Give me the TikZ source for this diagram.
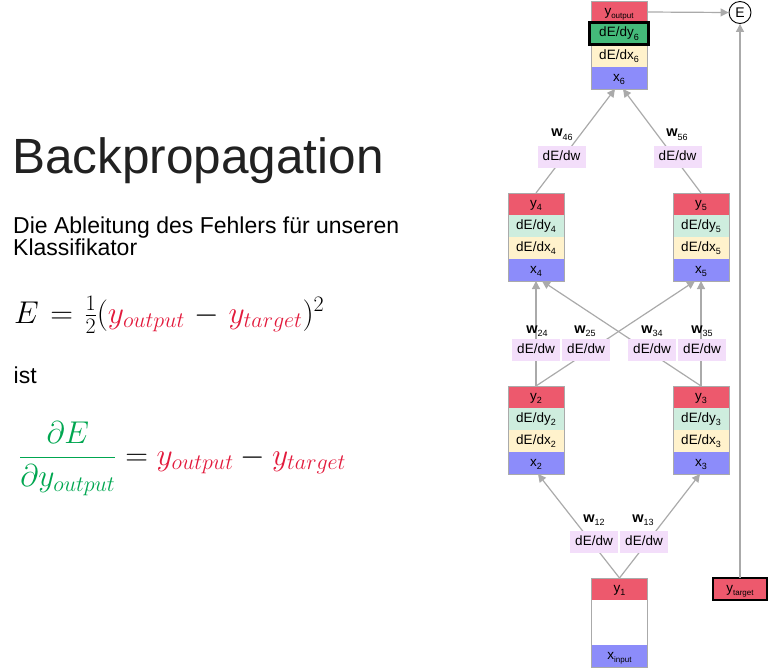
\RequirePackage{fix-cm}
\documentclass[tikz,border=0pt]{standalone}
\usepackage[no-math]{fontspec}
\setmainfont{Liberation Sans}
\usetikzlibrary{arrows.meta,fit}

\definecolor{rowred}{RGB}{237,89,109}
\definecolor{rowgreen}{RGB}{206,237,222}
\definecolor{rowdark}{RGB}{68,186,122}
\definecolor{rowcream}{RGB}{255,242,204}
\definecolor{rowblue}{RGB}{140,140,250}
\definecolor{wfill}{RGB}{243,222,250}
\definecolor{edgegray}{RGB}{170,170,170}
\definecolor{mred}{RGB}{226,26,60}
\definecolor{mgreen}{RGB}{0,166,80}
\definecolor{titlegray}{RGB}{33,33,33}

% lowered index digits and small word subscripts
\newcommand\lowsub[1]{\raisebox{-3.5pt}{\fontsize{9}{9}\selectfont #1}}
\newcommand\tinysub[1]{\raisebox{-3pt}{\fontsize{8}{8}\selectfont #1}}

\tikzset{
  row/.style={minimum width=56pt, minimum height=22pt, inner sep=0pt, outer sep=0pt,
    text height=10pt, text depth=3.5pt, font=\fontsize{13.5}{14}\selectfont},
  frame/.style={draw=edgegray, line width=1pt, inner sep=0pt, outer sep=0pt},
  dw/.style={fill=wfill, minimum width=48pt, minimum height=22pt, inner sep=0pt,
    text height=10pt, text depth=3.5pt, font=\fontsize{13.5}{14}\selectfont},
  wlab/.style={anchor=base, inner sep=0pt, font=\fontsize{14.5}{14}\selectfont},
  conn/.style={draw=edgegray, line width=1.2pt, -{Triangle[length=8pt,width=8pt]}},
  plaintext/.style={anchor=base west, inner sep=0pt},
}

% one neuron: name index, centre x, top y
\newcommand\layerbox[3]{%
  \node[row,fill=rowred]   (y#1)  at (#2,#3+11) {y\lowsub{#1}};
  \node[row,fill=rowgreen] (dy#1) at (#2,#3+33) {dE/dy\lowsub{#1}};
  \node[row,fill=rowcream] (dx#1) at (#2,#3+55) {dE/dx\lowsub{#1}};
  \node[row,fill=rowblue]  (x#1)  at (#2,#3+77) {x\lowsub{#1}};
  \node[frame,fit=(y#1)(x#1)] (n#1) {};
}

\begin{document}
\begin{tikzpicture}[x=1pt,y=-1pt]
\useasboundingbox (0,0) rectangle (771,670);

% ---- left column: title, text and formulas
\node[plaintext, font=\fontsize{49.5}{50}\selectfont, text=titlegray] (title) at (12,173.3) {Backpropagation};
\node[plaintext, font=\fontsize{23}{27}\selectfont] (intro1) at (13,233) {Die Ableitung des Fehlers für unseren};
\node[plaintext, font=\fontsize{23}{27}\selectfont] (intro2) at (13,255) {Klassifikator};
\node[plaintext, font=\fontsize{31.5}{36}\selectfont] (eq1) at (14,323)
  {$E\mkern1.5mu=\mkern1.5mu\frac{1}{2}(\textcolor{mred}{y_{output}}\mkern1.5mu-\mkern1.5mu\textcolor{mred}{y_{target}})^2$};
\node[plaintext, font=\fontsize{23}{27}\selectfont] (ist) at (13.5,383) {ist};
\node[plaintext, font=\fontsize{31.5}{36}\selectfont] (eq2) at (19,465)
  {$\displaystyle\textcolor{mgreen}{\frac{\partial E}{\partial y_{output}}}=\textcolor{mred}{y_{output}}-\textcolor{mred}{y_{target}}$};

% ---- network
% output neuron
\node[row,fill=rowred]   (y6)  at (619,12) {y\tinysub{output}};
\node[row,fill=rowcream] (dx6) at (619,56) {dE/dx\lowsub{6}};
\node[row,fill=rowblue]  (x6)  at (619,78) {x\lowsub{6}};
\node[frame,fit=(y6)(x6)] (n6) {};
\node[row,fill=rowdark,draw=black,line width=3pt,minimum width=59pt,minimum height=22pt] (dy6) at (619,33.5) {dE/dy\lowsub{6}};

% hidden neurons
\layerbox{4}{536}{193}
\layerbox{5}{701}{193}
\layerbox{2}{536}{386}
\layerbox{3}{701}{386}

% input neuron
\node[row,fill=rowred]  (y1) at (619.5,589) {y\lowsub{1}};
\node[row,fill=white,minimum height=45pt] (b1) at (619.5,622.5) {};
\node[row,fill=rowblue] (x1) at (619.5,656) {x\tinysub{input}};
\node[frame,fit=(y1)(x1)] (n1) {};

% target and error
\node[row,fill=rowred,draw=black,line width=2pt,minimum width=54pt] (yt) at (740,589) {y\tinysub{target}};
\node[circle,draw=black,line width=0.9pt,minimum size=22pt,inner sep=0pt,font=\fontsize{14}{14}\selectfont] (E) at (740,12.5) {E};

% ---- connectors
\draw[conn] (n1.north) -- ([xshift=2pt]n2.south);
\draw[conn] (n1.north) -- ([xshift=-1pt]n3.south);
\draw[conn] (n2.north) -- (n4.south);
\draw[conn] (n2.north) -- ([xshift=-6pt]n5.south);
\draw[conn] (n3.north) -- (n5.south);
\draw[conn] (n3.north) -- ([xshift=6pt]n4.south);
\draw[conn] (n4.north) -- ([xshift=-4pt]n6.south);
\draw[conn] (n5.north) -- ([xshift=4pt]n6.south);
\draw[conn] (y6.east) -- (E.west);
\draw[conn] (yt.north) -- (E.south);

% ---- weight gradients on the connectors
\node[dw] (g46) at (561.5,157) {dE/dw};
\node[dw] (g56) at (677.5,157) {dE/dw};
\node[dw] (g24) at (536,350) {dE/dw};
\node[dw] (g25) at (586,350) {dE/dw};
\node[dw] (g34) at (652,350) {dE/dw};
\node[dw] (g35) at (702,350) {dE/dw};
\node[dw] (g12) at (594,542) {dE/dw};
\node[dw] (g13) at (644,542) {dE/dw};

\node[wlab] (w46) at (562,136.5) {\textbf{w}\lowsub{46}};
\node[wlab] (w56) at (677,136.5) {\textbf{w}\lowsub{56}};
\node[wlab] (w24) at (537,333) {\textbf{w}\lowsub{24}};
\node[wlab] (w25) at (585,333) {\textbf{w}\lowsub{25}};
\node[wlab] (w34) at (652,333) {\textbf{w}\lowsub{34}};
\node[wlab] (w35) at (702,333) {\textbf{w}\lowsub{35}};
\node[wlab] (w12) at (594,522) {\textbf{w}\lowsub{12}};
\node[wlab] (w13) at (643,522) {\textbf{w}\lowsub{13}};
\end{tikzpicture}
\end{document}
